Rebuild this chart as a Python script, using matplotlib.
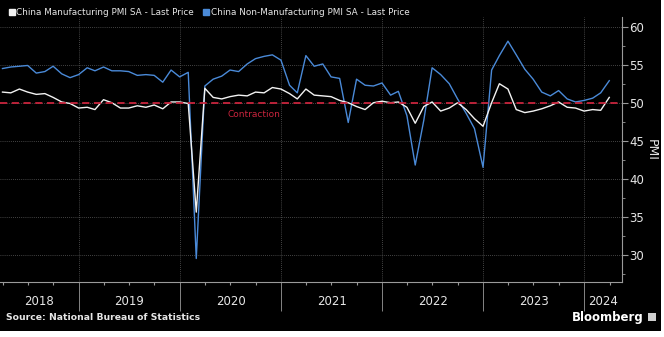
import numpy as np
import pandas as pd
import matplotlib
matplotlib.use("Agg")
import matplotlib.pyplot as plt
import matplotlib.dates as mdates
from matplotlib.lines import Line2D
from matplotlib.patches import Rectangle
from matplotlib.ticker import MultipleLocator

# monthly readings, Mar 2018 .. Mar 2024 (month-end dates)
dates = pd.date_range("2018-03-31", "2024-03-31", freq="ME")

manufacturing = [
    51.5, 51.4, 51.9, 51.5, 51.2, 51.3, 50.8, 50.2, 50.0, 49.4,
    49.5, 49.2, 50.5, 50.1, 49.4, 49.4, 49.7, 49.5, 49.8, 49.3, 50.2, 50.2,
    50.0, 35.7, 52.0, 50.8, 50.6, 50.9, 51.1, 51.0, 51.5, 51.4, 52.1, 51.9,
    51.3, 50.6, 51.9, 51.1, 51.0, 50.9, 50.4, 50.1, 49.6, 49.2, 50.1, 50.3,
    50.1, 50.2, 49.5, 47.4, 49.6, 50.2, 49.0, 49.4, 50.1, 49.2, 48.0, 47.0,
    50.1, 52.6, 51.9, 49.2, 48.8, 49.0, 49.3, 49.7, 50.2, 49.5, 49.4, 49.0,
    49.2, 49.1, 50.8,
]
non_manufacturing = [
    54.6, 54.8, 54.9, 55.0, 54.0, 54.2, 54.9, 53.9, 53.4, 53.8,
    54.7, 54.3, 54.8, 54.3, 54.3, 54.2, 53.7, 53.8, 53.7, 52.8, 54.4, 53.5,
    54.1, 29.6, 52.3, 53.2, 53.6, 54.4, 54.2, 55.2, 55.9, 56.2, 56.4, 55.7,
    52.4, 51.4, 56.3, 54.9, 55.2, 53.5, 53.3, 47.5, 53.2, 52.4, 52.3, 52.7,
    51.1, 51.6, 48.4, 41.9, 47.8, 54.7, 53.8, 52.6, 50.6, 48.7, 46.7, 41.6,
    54.4, 56.3, 58.2, 56.4, 54.5, 53.2, 51.5, 51.0, 51.7, 50.6, 50.2, 50.4,
    50.7, 51.4, 53.0,
]
threshold = 50
years = [2018, 2019, 2020, 2021, 2022, 2023, 2024]

BG = "black"
TXT = "#e6e6e6"
BLUE = "#4a8ad8"
WHITE = "#f2f2f2"
RED = "#c8243c"
AXC = "#9a9a9a"
GRID = "#5a5a5a"

fig = plt.figure(figsize=(6.64, 3.37), dpi=100, facecolor="white")
fig.patches.append(Rectangle((0, 6 / 337), 661 / 664, 331 / 337,
                             transform=fig.transFigure, facecolor=BG,
                             edgecolor="none", zorder=-10))

ax = fig.add_axes([0.0, 0.163, 622 / 664, 0.787])
ax.set_facecolor(BG)

ax.plot(dates, manufacturing, color=WHITE, lw=1.0, zorder=3)
ax.plot(dates, non_manufacturing, color=BLUE, lw=1.0, zorder=2)
ax.axhline(threshold, color=RED, lw=1.3, ls=(0, (4, 2.5)), zorder=4)
ax.text(pd.Timestamp("2020-06-20"), threshold - 0.9, "Contraction",
        color=RED, fontsize=6.5, va="top", ha="left")

xmin, xmax = pd.Timestamp("2018-03-22"), pd.Timestamp("2024-05-16")
ax.set_xlim(xmin, xmax)
ax.set_ylim(26.5, 61.4)

# y axis on the right
ax.yaxis.tick_right()
ax.yaxis.set_label_position("right")
ax.yaxis.set_major_locator(MultipleLocator(5))
ax.yaxis.set_minor_locator(MultipleLocator(2.5))
ax.tick_params(axis="y", which="major", colors=AXC, labelcolor=TXT,
               labelsize=8.5, length=4, width=0.8, pad=1)
ax.tick_params(axis="y", which="minor", colors=AXC, length=2, width=0.6)
ax.set_ylabel("PMI", color=TXT, fontsize=9, rotation=270, labelpad=10)

# x axis: year separators + quarter ticks
ax.xaxis.set_major_locator(mdates.YearLocator())
ax.xaxis.set_minor_locator(mdates.MonthLocator(bymonth=[1, 4, 7, 10]))
ax.xaxis.set_major_formatter(plt.NullFormatter())
ax.tick_params(axis="x", which="major", colors=AXC, length=21, width=0.6)
ax.tick_params(axis="x", which="minor", colors=AXC, length=2.5, width=0.8)

for yr in years:
    lo = max(pd.Timestamp(f"{yr}-01-01"), xmin)
    hi = min(pd.Timestamp(f"{yr + 1}-01-01"), xmax)
    mid = lo + (hi - lo) / 2
    ax.text(mid, -0.075, str(yr), transform=ax.get_xaxis_transform(),
            color=TXT, fontsize=8.5, ha="center", va="center")

ax.grid(axis="y", which="major", color=GRID, lw=0.6, ls=(0, (1, 1.5)))
ax.grid(axis="x", which="major", color=GRID, lw=0.6, ls=(0, (1, 1.5)))

for side in ["left", "top"]:
    ax.spines[side].set_visible(False)
ax.spines["right"].set_color(AXC)
ax.spines["bottom"].set_color(AXC)
ax.spines["right"].set_linewidth(0.8)
ax.spines["bottom"].set_linewidth(0.8)

handles = [Line2D([], [], marker="s", color=WHITE, ls="none", markersize=5),
           Line2D([], [], marker="s", color=BLUE, ls="none", markersize=5)]
labels = ["China Manufacturing PMI SA - Last Price",
          "China Non-Manufacturing PMI SA - Last Price"]
fig.legend(handles, labels, loc="upper left", bbox_to_anchor=(0.004, 0.995),
           ncol=2, frameon=False, fontsize=6.4, labelcolor=TXT,
           handlelength=0.6, handletextpad=0.25, columnspacing=1.0,
           borderaxespad=0.3)

fig.text(6 / 664, 1 - 318 / 337, "Source: National Bureau of Statistics",
         color=TXT, fontsize=6.7, fontweight="bold", va="center", ha="left")
fig.text(644 / 664, 1 - 317 / 337, "Bloomberg", color="white",
         fontsize=8.5, fontweight="bold", va="center", ha="right")
fig.patches.append(Rectangle((648 / 664, 1 - 321 / 337), 8 / 664, 8 / 337,
                             transform=fig.transFigure, facecolor="#cfcfcf",
                             edgecolor="none"))

fig.savefig("out.png", dpi=100, facecolor=fig.get_facecolor())
